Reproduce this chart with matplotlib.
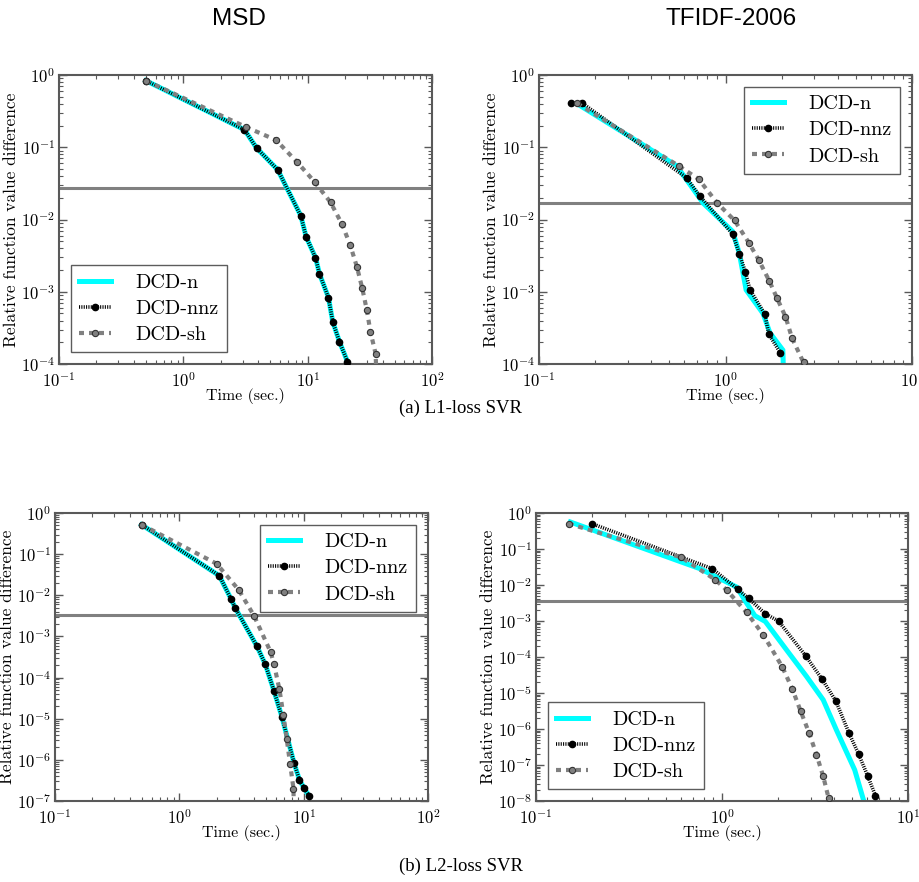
import numpy as np
import matplotlib
matplotlib.use('Agg')
import matplotlib.pyplot as plt
from matplotlib.ticker import LogLocator, NullFormatter

plt.rcParams['font.family'] = ['cmr10', 'DejaVu Serif']
plt.rcParams['mathtext.fontset'] = 'cm'
plt.rcParams['axes.unicode_minus'] = False
plt.rcParams['axes.formatter.use_mathtext'] = True

# ---- (a) L1-loss SVR, MSD ----
msd1_nnz_t = [0.50, 3.10, 3.89, 5.74, 8.81, 9.72, 11.56, 12.45, 14.7, 15.9, 18.0, 20.9, 21.3]
msd1_nnz_f = [0.835, 0.175, 0.0973, 0.0488, 0.01124, 0.00575, 0.00297, 0.00177, 8.3e-4, 3.86e-4, 2.04e-4, 1.08e-4, 8.5e-5]
msd1_n_t = msd1_nnz_t
msd1_n_f = msd1_nnz_f
msd1_sh_t = [0.50, 3.2, 5.57, 8.27, 11.35, 15.3, 18.95, 22.0, 24.9, 27.5, 29.9, 32.0, 35.2, 35.8]
msd1_sh_f = [0.835, 0.19, 0.1257, 0.0616, 0.0333, 0.0172, 0.00853, 0.00441, 0.00221, 0.00111, 5.6e-4, 2.78e-4, 1.39e-4, 6e-5]
msd1_stop = 0.0269

# ---- (a) L1-loss SVR, TFIDF-2006 ----
tf1_nnz_t = [0.149, 0.171, 0.618, 0.729, 1.093, 1.186, 1.278, 1.354, 1.624, 1.706, 1.963]
tf1_nnz_f = [0.405, 0.405, 0.0378, 0.0211, 0.00626, 0.00338, 0.00188, 0.00106, 4.93e-4, 2.6e-4, 1.44e-4]
tf1_n_t = [0.16, 0.547, 0.760, 1.093, 1.186, 1.29, 1.59, 1.73, 2.03, 2.045]
tf1_n_f = [0.40, 0.0554, 0.0168, 0.00682, 0.0034, 0.00106, 5.0e-4, 2.7e-4, 1.56e-4, 8e-5]
tf1_sh_t = [0.160, 0.560, 0.718, 0.904, 1.119, 1.332, 1.507, 1.72, 1.883, 2.097, 2.275, 2.62]
tf1_sh_f = [0.405, 0.0554, 0.0362, 0.0168, 0.00969, 0.0048, 0.00276, 0.0014, 8.3e-4, 4.53e-4, 2.27e-4, 1.05e-4]
tf1_stop = 0.0168

# ---- (b) L2-loss SVR, MSD ----
msd2_nnz_t = [0.497, 2.097, 2.60, 2.82, 4.22, 4.92, 5.78, 6.67, 8.38, 9.25, 10.09, 11.07]
msd2_nnz_f = [0.52, 0.0299, 0.00824, 0.00488, 5.7e-4, 2.08e-4, 4.67e-5, 1.13e-5, 8.26e-7, 3.25e-7, 2.04e-7, 1.33e-7]
msd2_n_t = msd2_nnz_t
msd2_n_f = msd2_nnz_f
msd2_sh_t = [0.497, 1.995, 3.0, 3.99, 5.43, 5.78, 6.38, 6.87, 7.31, 7.78, 8.28, 8.32]
msd2_sh_f = [0.52, 0.0585, 0.0136, 0.00318, 4.15e-4, 2.08e-4, 5.22e-5, 1.24e-5, 3.17e-6, 7.96e-7, 2.0e-7, 8e-8]
msd2_stop = 0.00336

# ---- (b) L2-loss SVR, TFIDF-2006 ----
tf2_nnz_t = [0.200, 0.887, 1.214, 1.39, 1.709, 2.014, 2.824, 3.44, 4.09, 4.82, 5.43, 6.07, 6.68]
tf2_nnz_f = [0.505, 0.0283, 0.0077, 0.00424, 0.00159, 9.93e-4, 1.06e-4, 2.48e-5, 6.05e-6, 7.64e-7, 1.99e-7, 4.98e-8, 1.41e-8]
tf2_n_t = [0.153, 0.762, 1.199, 1.356, 1.503, 1.709, 2.22, 2.848, 3.50, 4.12, 5.17, 5.8]
tf2_n_f = [0.562, 0.0283, 0.00876, 0.00315, 0.0014, 9.7e-4, 1.59e-4, 2.88e-5, 6.46e-6, 9.46e-7, 7.3e-8, 9.6e-9]
tf2_sh_t = [0.1497, 0.605, 0.921, 1.064, 1.356, 1.667, 2.108, 2.386, 2.644, 2.943, 3.22, 3.50, 3.74]
tf2_sh_f = [0.505, 0.0585, 0.014, 0.00708, 0.00173, 4.14e-4, 5.34e-5, 1.31e-5, 3.19e-6, 7.64e-7, 1.95e-7, 4.87e-8, 1.22e-8]
tf2_stop = 0.0035

W, H = 919, 882
fig = plt.figure(figsize=(W / 100, H / 100), dpi=100)


def box(l, t, r, b):
    return [l / W, 1 - b / H, (r - l) / W, (b - t) / H]


panels = [
    (box(59, 75, 432, 364), (0.1, 100), (1e-4, 1), msd1_n_t, msd1_n_f, msd1_nnz_t, msd1_nnz_f,
     msd1_sh_t, msd1_sh_f, msd1_stop, 'lower left'),
    (box(539, 75, 912, 364), (0.1, 10), (1e-4, 1), tf1_n_t, tf1_n_f, tf1_nnz_t, tf1_nnz_f,
     tf1_sh_t, tf1_sh_f, tf1_stop, 'upper right'),
    (box(55, 513, 428, 801), (0.1, 100), (1e-7, 1), msd2_n_t, msd2_n_f, msd2_nnz_t, msd2_nnz_f,
     msd2_sh_t, msd2_sh_f, msd2_stop, 'upper right'),
    (box(536, 513, 908, 801), (0.1, 10), (1e-8, 1), tf2_n_t, tf2_n_f, tf2_nnz_t, tf2_nnz_f,
     tf2_sh_t, tf2_sh_f, tf2_stop, 'lower left'),
]

frame_col = '0.35'
for rect, xl, yl, nt, nf, zt, zf, st, sf, stop, loc in panels:
    ax = fig.add_axes(rect)
    ax.plot(nt, nf, color='cyan', lw=3.6, solid_joinstyle='miter', label='DCD-n', zorder=2)
    ax.plot(zt, zf, color='black', lw=2.6, linestyle=(0, (0.3, 0.35)), marker='o', ms=4.5,
            mfc='black', mec='black', label='DCD-nnz', zorder=3)
    ax.plot(st, sf, color='0.5', lw=3, linestyle=(0, (1.2, 1.2)), marker='o', ms=4.5,
            mfc='0.5', mec='0.2', mew=0.8, label='DCD-sh', zorder=4)
    ax.axhline(stop, color='0.5', lw=2.2, zorder=1)
    ax.set_xscale('log')
    ax.set_yscale('log')
    ax.set_xlim(*xl)
    ax.set_ylim(*yl)
    for axis in (ax.xaxis, ax.yaxis):
        axis.set_major_locator(LogLocator(base=10, numticks=20))
        axis.set_minor_locator(LogLocator(base=10, subs=np.arange(2, 10), numticks=20))
        axis.set_minor_formatter(NullFormatter())
    ax.tick_params(which='both', direction='in', top=True, right=True, labelsize=12,
                   color=frame_col)
    ax.tick_params(axis='x', pad=5)
    ax.tick_params(axis='y', pad=3)
    ax.tick_params(which='major', length=6, width=1)
    ax.tick_params(which='minor', length=3, width=0.8)
    for s in ax.spines.values():
        s.set_color(frame_col)
        s.set_linewidth(1.5)
    ax.set_xlabel('Time (sec.)', fontsize=11.5, labelpad=-1)
    ax.set_ylabel('Relative function value difference', fontsize=12.5, labelpad=1)
    leg = ax.legend(loc=loc, fontsize=14.5, handlelength=1.6, fancybox=False,
                    borderaxespad=0.6, labelspacing=0.4, handletextpad=1.2)
    leg.get_frame().set_edgecolor('0.2')
    leg.get_frame().set_linewidth(1)

fig.text(239 / W, 1 - 19 / H, 'MSD', family='Liberation Sans', fontsize=17.5,
         ha='center', va='center')
fig.text(731 / W, 1 - 19 / H, 'TFIDF-2006', family='Liberation Sans', fontsize=17.5,
         ha='center', va='center')
fig.text(461 / W, 1 - 408 / H, '(a) L1-loss SVR', family='Liberation Serif', fontsize=13.5,
         ha='center', va='center')
fig.text(461 / W, 1 - 866 / H, '(b) L2-loss SVR', family='Liberation Serif', fontsize=13.5,
         ha='center', va='center')

fig.savefig('out.png', dpi=100)
